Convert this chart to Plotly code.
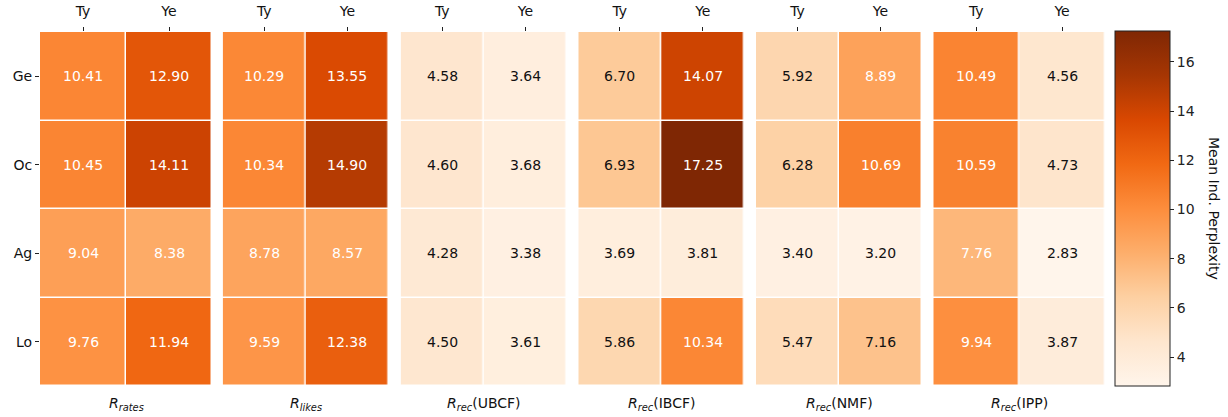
import plotly.graph_objects as go

# Rows and columns shared by every panel
groups = ["Ge", "Oc", "Ag", "Lo"]
kinds = ["Ty", "Ye"]

# Panel titles (drawn below each heatmap)
panel_titles = [
    "<i>R</i><sub><i>rates</i></sub>",
    "<i>R</i><sub><i>likes</i></sub>",
    "<i>R</i><sub><i>rec</i></sub>(UBCF)",
    "<i>R</i><sub><i>rec</i></sub>(IBCF)",
    "<i>R</i><sub><i>rec</i></sub>(NMF)",
    "<i>R</i><sub><i>rec</i></sub>(IPP)",
]

# Mean individual perplexity, rows = groups, columns = kinds
r_rates = [[10.41, 12.90], [10.45, 14.11], [9.04, 8.38], [9.76, 11.94]]
r_likes = [[10.29, 13.55], [10.34, 14.90], [8.78, 8.57], [9.59, 12.38]]
r_ubcf = [[4.58, 3.64], [4.60, 3.68], [4.28, 3.38], [4.50, 3.61]]
r_ibcf = [[6.70, 14.07], [6.93, 17.25], [3.69, 3.81], [5.86, 10.34]]
r_nmf = [[5.92, 8.89], [6.28, 10.69], [3.40, 3.20], [5.47, 7.16]]
r_ipp = [[10.49, 4.56], [10.59, 4.73], [7.76, 2.83], [9.94, 3.87]]

panels = [r_rates, r_likes, r_ubcf, r_ibcf, r_nmf, r_ipp]

W, H = 1228, 417
FONT = "DejaVu Sans, Arial, sans-serif"
FS = 14

# pixel extents of each panel
x_px = [(40, 212), (222.7, 389), (400.7, 567), (578.3, 744.3), (756, 922), (933.3, 1105)]
y_top, y_bot = 32, 386

zmin = min(min(min(r) for r in p) for p in panels)
zmax = max(max(max(r) for r in p) for p in panels)

fig = go.Figure()
annotations = []
layout = {}

for i, (z, (x0, x1)) in enumerate(zip(panels, x_px)):
    n = i + 1
    xa = "x" if n == 1 else f"x{n}"
    ya = "y" if n == 1 else f"y{n}"
    fig.add_trace(go.Heatmap(
        z=z, x=kinds, y=groups,
        xaxis=xa, yaxis=ya,
        colorscale="Oranges", zmin=zmin, zmax=zmax,
        xgap=1.5, ygap=1.5,
        showscale=(n == 1),
        colorbar=dict(
            x=1115 / W, xanchor="left", xpad=0,
            y=1 - (y_top - 1 + y_bot) / 2 / H, yanchor="middle", ypad=0,
            lenmode="pixels", len=(y_bot - y_top + 1),
            thicknessmode="pixels", thickness=55,
            outlinewidth=1, outlinecolor="#222",
            tickvals=[4, 6, 8, 10, 12, 14, 16],
            ticks="outside", ticklen=4, tickcolor="#222",
            tickfont=dict(family=FONT, size=FS, color="#222"),
        ),
        hoverongaps=False,
    ))
    dom_x = [x0 / W, x1 / W]
    dom_y = [1 - y_bot / H, 1 - y_top / H]
    layout[f"xaxis{'' if n == 1 else n}"] = dict(
        domain=dom_x, anchor=ya, side="top", type="category",
        ticks="outside", ticklen=4, tickcolor="#222", tickwidth=1,
        ticklabelstandoff=5,
        tickfont=dict(family=FONT, size=FS, color="#111"),
        showgrid=False, zeroline=False, showline=False, automargin=False,
        fixedrange=True,
    )
    layout[f"yaxis{'' if n == 1 else n}"] = dict(
        domain=dom_y, anchor=xa, type="category", autorange="reversed",
        ticks="outside" if n == 1 else "", ticklen=4, tickcolor="#222",
        showticklabels=(n == 1),
        tickfont=dict(family=FONT, size=FS, color="#111"),
        showgrid=False, zeroline=False, showline=False, automargin=False,
        fixedrange=True,
    )
    # value labels in every cell
    for r, g in enumerate(groups):
        for c, k in enumerate(kinds):
            v = z[r][c]
            annotations.append(dict(
                x=k, y=g, xref=xa, yref=ya, text=f"{v:.2f}", showarrow=False,
                font=dict(family=FONT, size=FS, color="white" if v > 7.5 else "#111"),
            ))
    # panel title below
    annotations.append(dict(
        x=(x0 + x1) / 2 / W, y=1 - 404 / H, xref="paper", yref="paper",
        text=panel_titles[i], showarrow=False, xanchor="center", yanchor="middle",
        font=dict(family=FONT, size=FS, color="#111"),
    ))

# colorbar title
annotations.append(dict(
    x=1214 / W, y=1 - 208 / H, xref="paper", yref="paper",
    text="Mean Ind. Perplexity", textangle=90, showarrow=False,
    xanchor="center", yanchor="middle",
    font=dict(family=FONT, size=FS, color="#111"),
))

fig.update_layout(
    width=W, height=H,
    margin=dict(l=0, r=0, t=0, b=0),
    paper_bgcolor="white", plot_bgcolor="white",
    annotations=annotations,
    **layout,
)

fig.write_html("out.html")
